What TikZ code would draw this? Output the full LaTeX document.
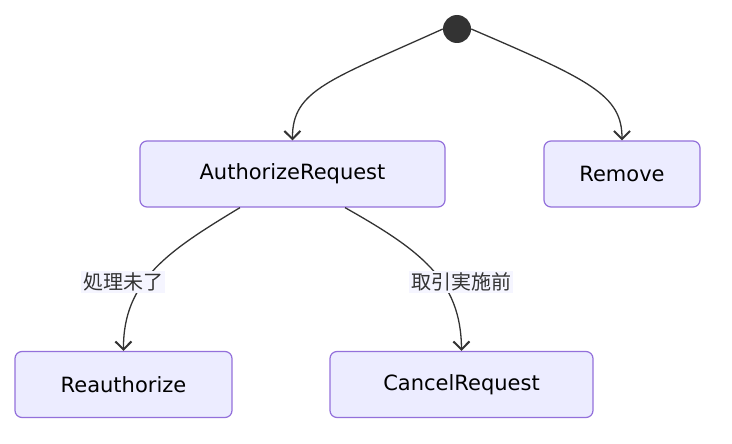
\documentclass[tikz,border=0pt]{standalone}
\usepackage{fontspec}
\setmainfont{DejaVu Sans}
\newfontfamily\cjk{Noto Sans CJK JP}
\usetikzlibrary{arrows.meta}
\definecolor{bfill}{RGB}{236,236,255}
\definecolor{bdraw}{RGB}{147,112,219}
\definecolor{ln}{RGB}{51,51,51}
\definecolor{lbg}{RGB}{245,245,255}
\begin{document}
\begin{tikzpicture}[x=1pt,y=-1pt,
 box/.style={draw=bdraw,fill=bfill,rounded corners=7pt,line width=1.2pt,minimum height=66pt,inner xsep=0pt,font=\fontsize{21}{24}\selectfont,anchor=center},
 edge/.style={draw=ln,line width=1.3pt,-{Straight Barb[length=8pt,width=16pt,line width=2pt]}},
 lbl/.style={fill=lbg,font=\cjk\fontsize{20}{24}\selectfont,text=ln,inner sep=2pt}]
\useasboundingbox (0,0) rectangle (732,444);
\node[circle,fill=ln,minimum size=28pt,inner sep=0] (s) at (457,29) {};
\node[box,minimum width=305pt] (a) at (292.5,174) {AuthorizeRequest};
\node[box,minimum width=156pt] (r) at (622,174) {Remove};
\node[box,minimum width=217pt] (re) at (123.5,384.5) {Reauthorize};
\node[box,minimum width=263pt] (c) at (461.5,384.5) {CancelRequest};
\draw[edge] (s.west) .. controls (330,80) and (292,90) .. (a.north);
\draw[edge] (s.east) .. controls (590,80) and (622,95) .. (r.north);
\draw[edge] (a.south -| 240,0) .. controls (170,250) and (123,280) .. (re.north);
\draw[edge] (a.south -| 345,0) .. controls (420,250) and (461,280) .. (c.north);
\node[lbl] (l1) at (123,282) {処理未了};
\node[lbl] (l2) at (461,282) {取引実施前};
\end{tikzpicture}
\end{document}
